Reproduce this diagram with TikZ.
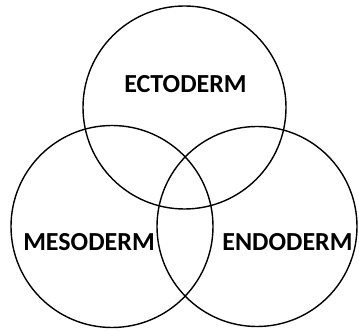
\documentclass[tikz,border=0pt]{standalone}
\usepackage{fontspec}
\setmainfont{Carlito}
\begin{document}
\begin{tikzpicture}[x=1pt,y=-1pt,
  ring/.style={draw=black,line width=1.4pt},
  lbl/.style={font=\fontsize{26}{28}\selectfont\bfseries,inner sep=0pt}]
\useasboundingbox (0,0) rectangle (359,331);
\draw[ring] (184.5,107.5) circle[radius=101.5];
\draw[ring] (112,226.5) circle[radius=101];
\draw[ring] (257,226.5) circle[radius=100];
\node[lbl] (ecto) at (185.5,84) {ECTODERM};
\node[lbl] (meso) at (89,242) {MESODERM};
\node[lbl] (endo) at (287.5,242) {ENDODERM};
\end{tikzpicture}
\end{document}
